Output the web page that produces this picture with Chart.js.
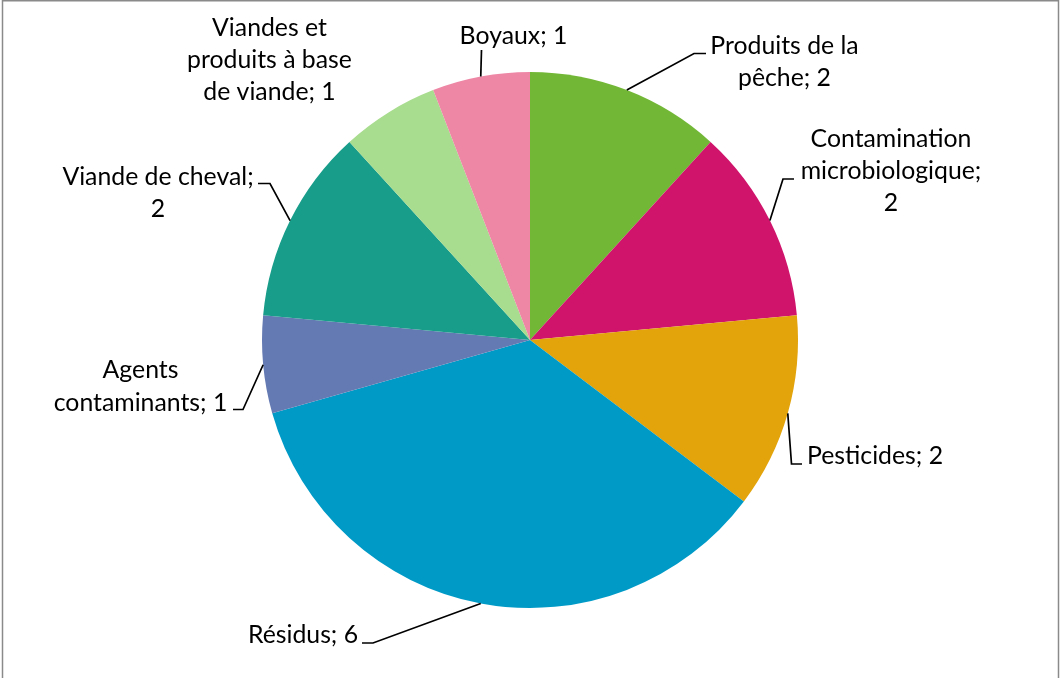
<!DOCTYPE html>
<html>
<head>
<meta charset="utf-8">
<script src="https://cdn.jsdelivr.net/npm/chart.js@4"></script>
<style>
  html, body { margin: 0; padding: 0; background: #ffffff; }
  #myChart { display: block; }
</style>
</head>
<body>
<canvas id="myChart" width="1060" height="678"></canvas>
<script>
const categories = [
  "Produits de la pêche",
  "Contamination microbiologique",
  "Pesticides",
  "Résidus",
  "Agents contaminants",
  "Viande de cheval",
  "Viandes et produits à base de viande",
  "Boyaux",
];
const counts = [2, 2, 2, 6, 1, 2, 1, 1];
const sliceColors = ["#72b836", "#d0146c", "#e2a30b", "#009ac7", "#647ab2", "#179d8a", "#a8dc8e", "#ee87a6"];

// label text as it wraps in the picture, one entry per slice
const labelLines = [
  ["Produits de la", "pêche; 2"],
  ["Contamination", "microbiologique;", "2"],
  ["Pesticides; 2"],
  ["Résidus; 6"],
  ["Agents", "contaminants; 1"],
  ["Viande de cheval;", "2"],
  ["Viandes et", "produits à base", "de viande; 1"],
  ["Boyaux; 1"],
];

// where each label sits and how its leader line bends (null = no leader)
const labelLayout = [
  { x: 784.5, y: 53.5, leader: [[694, 53.5], [706, 53.5]] },
  { x: 891, y: 146.7, leader: [[783, 179], [794, 179]] },
  { x: 875, y: 464, leader: [[791.5, 464], [802, 464]] },
  { x: 303, y: 643.3, leader: [[373, 643], [362, 643]] },
  { x: 140.5, y: 378.3, leader: [[243, 409.5], [233, 409.5]] },
  { x: 158, y: 185, leader: [[270, 183.5], [258, 183.5]] },
  { x: 269.5, y: 35.5, leader: null },
  { x: 513.5, y: 43.5, leader: [[481.5, 50]] },
];

const LINE_HEIGHT = 32.3;
const FONT = "24.8px Lato";

let myChart;

let elements = {
  ctx: document.getElementById("myChart").getContext("2d"),
};

const framePlugin = {
  id: "frame",
  beforeDraw(chart) {
    const c = chart.ctx;
    c.save();
    c.fillStyle = "#ffffff";
    c.fillRect(0, 0, chart.width, chart.height);
    c.strokeStyle = "#8a8a8a";
    c.lineWidth = 1.5;
    c.beginPath();
    c.moveTo(2.5, chart.height);
    c.lineTo(2.5, 0.75);
    c.lineTo(1058.5, 0.75);
    c.lineTo(1058.5, chart.height);
    c.stroke();
    c.restore();
  },
}; //framePlugin

const labelPlugin = {
  id: "sliceLabels",
  afterDatasetsDraw(chart) {
    const c = chart.ctx;
    const meta = chart.getDatasetMeta(0);
    c.save();
    c.strokeStyle = "#000000";
    c.lineWidth = 1.7;
    c.fillStyle = "#000000";
    c.font = FONT;
    c.textAlign = "center";
    c.textBaseline = "alphabetic";
    meta.data.forEach((arc, i) => {
      const p = arc.getProps(["x", "y", "startAngle", "endAngle", "outerRadius"], true);
      const mid = (p.startAngle + p.endAngle) / 2;
      const lay = labelLayout[i];
      if (lay.leader) {
        c.beginPath();
        c.moveTo(p.x + Math.cos(mid) * p.outerRadius, p.y + Math.sin(mid) * p.outerRadius);
        lay.leader.forEach((pt) => c.lineTo(pt[0], pt[1]));
        c.stroke();
      }
      labelLines[i].forEach((line, j) => {
        c.fillText(line, lay.x, lay.y + j * LINE_HEIGHT);
      });
    });
    c.restore();
  },
}; //labelPlugin

function loadChart() {
  if (myChart) {
    myChart.destroy();
  }
  myChart = new Chart(elements.ctx, {
    type: "pie",
    data: {
      labels: categories,
      datasets: [
        {
          data: counts,
          backgroundColor: sliceColors,
          borderWidth: 0,
        },
      ],
    },
    options: {
      responsive: false,
      animation: false,
      layout: {
        padding: { top: 72, bottom: 70, left: 262, right: 262 },
      },
      plugins: {
        legend: { display: false },
        tooltip: { enabled: false },
      },
    },
    plugins: [framePlugin, labelPlugin],
  });
} //loadChart

loadChart();
</script>
</body>
</html>
